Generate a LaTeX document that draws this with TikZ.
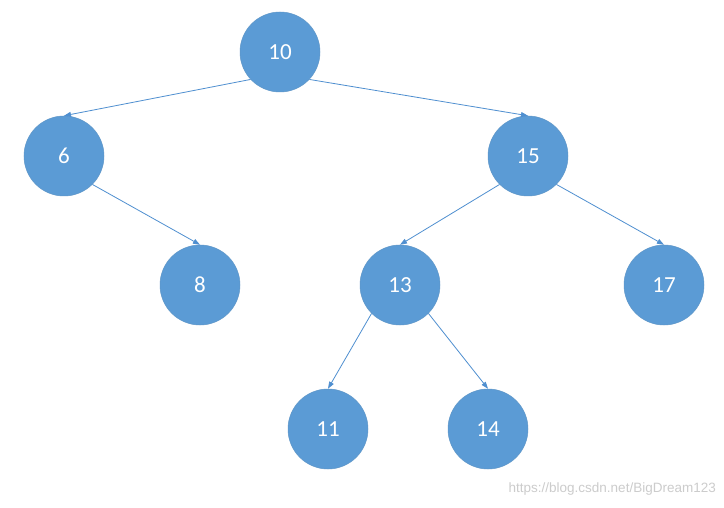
\documentclass[tikz,border=0pt]{standalone}
\usepackage{fontspec}
\setmainfont{Carlito}
\newfontfamily\wmfont{Liberation Sans}
\usetikzlibrary{arrows.meta}
\definecolor{nodeblue}{HTML}{5B9BD5}
\definecolor{edgeblue}{HTML}{4F8FD0}
\begin{document}
\begin{tikzpicture}[x=1pt,y=-1pt,
  tnode/.style={circle,fill=nodeblue,draw=nodeblue!85!gray,line width=0.5pt,minimum size=80pt,inner sep=0pt,text=white,font=\fontsize{23}{25}\selectfont},
  edge/.style={draw=edgeblue,line width=0.8pt,-{Triangle[length=7pt,width=5pt]}}]
\useasboundingbox[fill=white] (0,0) rectangle (724,508);
\node[tnode] (n10) at (280,52) {10};
\node[tnode] (n6) at (64,156) {6};
\node[tnode] (n15) at (528,156) {15};
\node[tnode] (n8) at (200,285) {8};
\node[tnode] (n13) at (400,285) {13};
\node[tnode] (n17) at (664,285) {17};
\node[tnode] (n11) at (328,429) {11};
\node[tnode] (n14) at (488,429) {14};
\draw[edge] (n10.223) -- (n6.north);
\draw[edge] (n10.317) -- (n15.north);
\draw[edge] (n6.315) -- (n8.north);
\draw[edge] (n15.225) -- (n13.north);
\draw[edge] (n15.315) -- (n17.north);
\draw[edge] (n13.225) -- (n11.north);
\draw[edge] (n13.315) -- (n14.north);
\node[anchor=east,text=gray!40,font=\wmfont\fontsize{13.5}{15}\selectfont,inner sep=0pt] (wm) at (716,489) {https://blog.csdn.net/BigDream123};
\end{tikzpicture}
\end{document}
